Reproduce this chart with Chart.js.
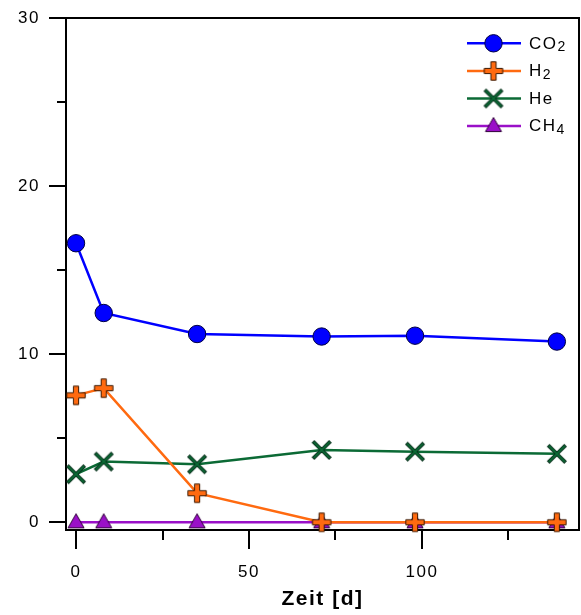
<!DOCTYPE html>
<html><head><meta charset="utf-8">
<script src="https://cdn.jsdelivr.net/npm/chart.js@4/dist/chart.umd.min.js"></script>
<style>html,body{margin:0;padding:0;background:#fff}#wrap{width:581px;height:615px}</style>
</head><body><div id="wrap"><canvas id="c" width="581" height="615"></canvas></div>
<script>
// ---- data ----
const days = [0, 8, 35, 71, 98, 139];
const co2 = [16.6, 12.45, 11.2, 11.05, 11.1, 10.75];
const h2 = [7.55, 7.98, 1.73, 0, 0, 0];
const he = [2.86, 3.61, 3.45, 4.3, 4.2, 4.07];
const ch4 = [0, 0, 0, 0, 0, 0];
const yTicks = [0, 10, 20, 30];
const yMinor = [5, 15, 25];
const xTicks = [0, 50, 100];
const xMinor = [25, 75, 125];
const xTitle = 'Zeit [d]';
const legendNames = [['CO', '2'], ['H', '2'], ['He', ''], ['CH', '4']];

const FONT = '"Liberation Sans", Arial, sans-serif';
const C_BLUE = '#0000FF', C_OR = '#FF6A10', C_GR = '#0B6A35', C_PU = '#9A10C8';

function mk(size, draw) {
  const c = document.createElement('canvas');
  c.width = c.height = size;
  const g = c.getContext('2d');
  draw(g, size / 2);
  return c;
}
function crossPath(g, m, a, w) {
  g.beginPath();
  g.moveTo(m - w, m - a); g.lineTo(m + w, m - a); g.lineTo(m + w, m - w);
  g.lineTo(m + a, m - w); g.lineTo(m + a, m + w); g.lineTo(m + w, m + w);
  g.lineTo(m + w, m + a); g.lineTo(m - w, m + a); g.lineTo(m - w, m + w);
  g.lineTo(m - a, m + w); g.lineTo(m - a, m - w); g.lineTo(m - w, m - w);
  g.closePath();
}
const plusImg = mk(22, (g, m) => {
  crossPath(g, m, 9.2, 2.6);
  g.fillStyle = C_OR; g.fill();
  g.lineWidth = 1; g.strokeStyle = '#3a1800'; g.stroke();
});
const xImg = mk(30, (g, m) => {
  g.translate(m, m); g.rotate(Math.PI / 4); g.translate(-m, -m);
  crossPath(g, m, 11.8, 1.4);
  g.fillStyle = C_GR; g.fill();
  g.lineWidth = 1; g.strokeStyle = '#06301a'; g.stroke();
});
const triImg = mk(22, (g, m) => {
  g.beginPath();
  g.moveTo(m, m - 8.5); g.lineTo(m + 8, m + 5.6); g.lineTo(m - 8, m + 5.6);
  g.closePath();
  g.fillStyle = C_PU; g.fill();
  g.lineWidth = 1; g.strokeStyle = '#30003a'; g.stroke();
});
const markerStyles = ['circle', plusImg, xImg, triImg];
const lineColors = [C_BLUE, C_OR, C_GR, C_PU];

function pts(arr) { return days.map((d, i) => ({ x: d, y: arr[i] })); }

const framePlugin = {
  id: 'frame',
  beforeDraw(chart) { chart.ctx.letterSpacing = '1.5px'; },
  beforeDatasetsDraw(chart) {
    const { ctx, chartArea: a, scales } = chart;
    ctx.save();
    ctx.strokeStyle = '#000'; ctx.lineWidth = 2;
    ctx.beginPath();
    ctx.moveTo(a.left, a.top); ctx.lineTo(a.right, a.top); ctx.lineTo(a.right, a.bottom);
    ctx.stroke();
    // minor ticks
    ctx.beginPath();
    yMinor.forEach(v => { const y = Math.round(scales.y.getPixelForValue(v)); ctx.moveTo(a.left - 9, y); ctx.lineTo(a.left, y); });
    xMinor.forEach(v => { const x = Math.round(scales.x.getPixelForValue(v)); ctx.moveTo(x, a.bottom); ctx.lineTo(x, a.bottom + 10); });
    ctx.stroke();
    ctx.restore();
  },
  afterDatasetsDraw(chart) {
    const { ctx } = chart;
    ctx.save();
    const ys = [43.3, 71, 98.5, 126];
    legendNames.forEach((nm, i) => {
      const y = ys[i];
      ctx.strokeStyle = lineColors[i]; ctx.lineWidth = 2.5;
      ctx.beginPath(); ctx.moveTo(467, y); ctx.lineTo(521, y); ctx.stroke();
      const st = markerStyles[i];
      if (st === 'circle') {
        ctx.beginPath(); ctx.arc(493.5, y, 8.7, 0, Math.PI * 2);
        ctx.fillStyle = C_BLUE; ctx.fill(); ctx.lineWidth = 1; ctx.strokeStyle = '#000040'; ctx.stroke();
      } else {
        ctx.drawImage(st, 493.5 - st.width / 2, y - st.height / 2);
      }
      ctx.fillStyle = '#000';
      ctx.textAlign = 'left'; ctx.textBaseline = 'alphabetic';
      ctx.letterSpacing = '1.5px';
      ctx.font = '17px ' + FONT;
      ctx.fillText(nm[0], 529, y + 5.4);
      const w = ctx.measureText(nm[0]).width;
      if (nm[1]) {
        ctx.letterSpacing = '0px';
        ctx.font = '14px ' + FONT;
        ctx.fillText(nm[1], 529 + w, y + 7.8);
      }
    });
    ctx.restore();
  }
};

function zeroPad(s) { s.paddingLeft = 0; s.paddingRight = 0; s.paddingTop = 0; s.paddingBottom = 0; }

new Chart(document.getElementById('c'), {
  type: 'line',
  data: {
    datasets: [co2, h2, he, ch4].map((arr, i) => ({
      label: ['CO2', 'H2', 'He', 'CH4'][i],
      data: pts(arr),
      borderColor: lineColors[i],
      backgroundColor: lineColors[i],
      borderWidth: 2.5,
      tension: 0,
      clip: false,
      pointStyle: markerStyles[i],
      pointRadius: i === 0 ? 8.7 : 10,
      pointBackgroundColor: i === 0 ? C_BLUE : lineColors[i],
      pointBorderColor: i === 0 ? '#000040' : lineColors[i],
      pointBorderWidth: 1
    }))
  },
  options: {
    responsive: false, animation: false, devicePixelRatio: 1,
    layout: { autoPadding: false, padding: { top: 18, right: 2, left: 0, bottom: 0 } },
    plugins: { legend: { display: false }, tooltip: { enabled: false } },
    scales: {
      x: {
        type: 'linear', min: -2.9, max: 145.4,
        afterBuildTicks: s => { s.ticks = xTicks.map(v => ({ value: v })); },
        afterFit: s => { s.height = 85; zeroPad(s); },
        grid: { drawOnChartArea: false, drawTicks: true, tickLength: 19, color: '#000', lineWidth: 2 },
        border: { display: true, color: '#000', width: 2 },
        ticks: { color: '#000', font: { family: FONT, size: 17 }, padding: 13, maxRotation: 0, autoSkip: false, callback: v => String(v) },
        title: { display: true, text: xTitle, color: '#000', font: { family: FONT, size: 21, weight: 'bold' }, padding: { top: 0, bottom: 3 } }
      },
      y: {
        type: 'linear', min: -0.46, max: 30,
        afterBuildTicks: s => { s.ticks = yTicks.map(v => ({ value: v })); },
        afterFit: s => { s.width = 66; zeroPad(s); },
        grid: { drawOnChartArea: false, drawTicks: true, tickLength: 17, color: '#000', lineWidth: 2 },
        border: { display: true, color: '#000', width: 2 },
        ticks: { color: '#000', font: { family: FONT, size: 17 }, padding: 9, autoSkip: false, callback: v => String(v) }
      }
    }
  },
  plugins: [framePlugin]
});
</script>
</body></html>
